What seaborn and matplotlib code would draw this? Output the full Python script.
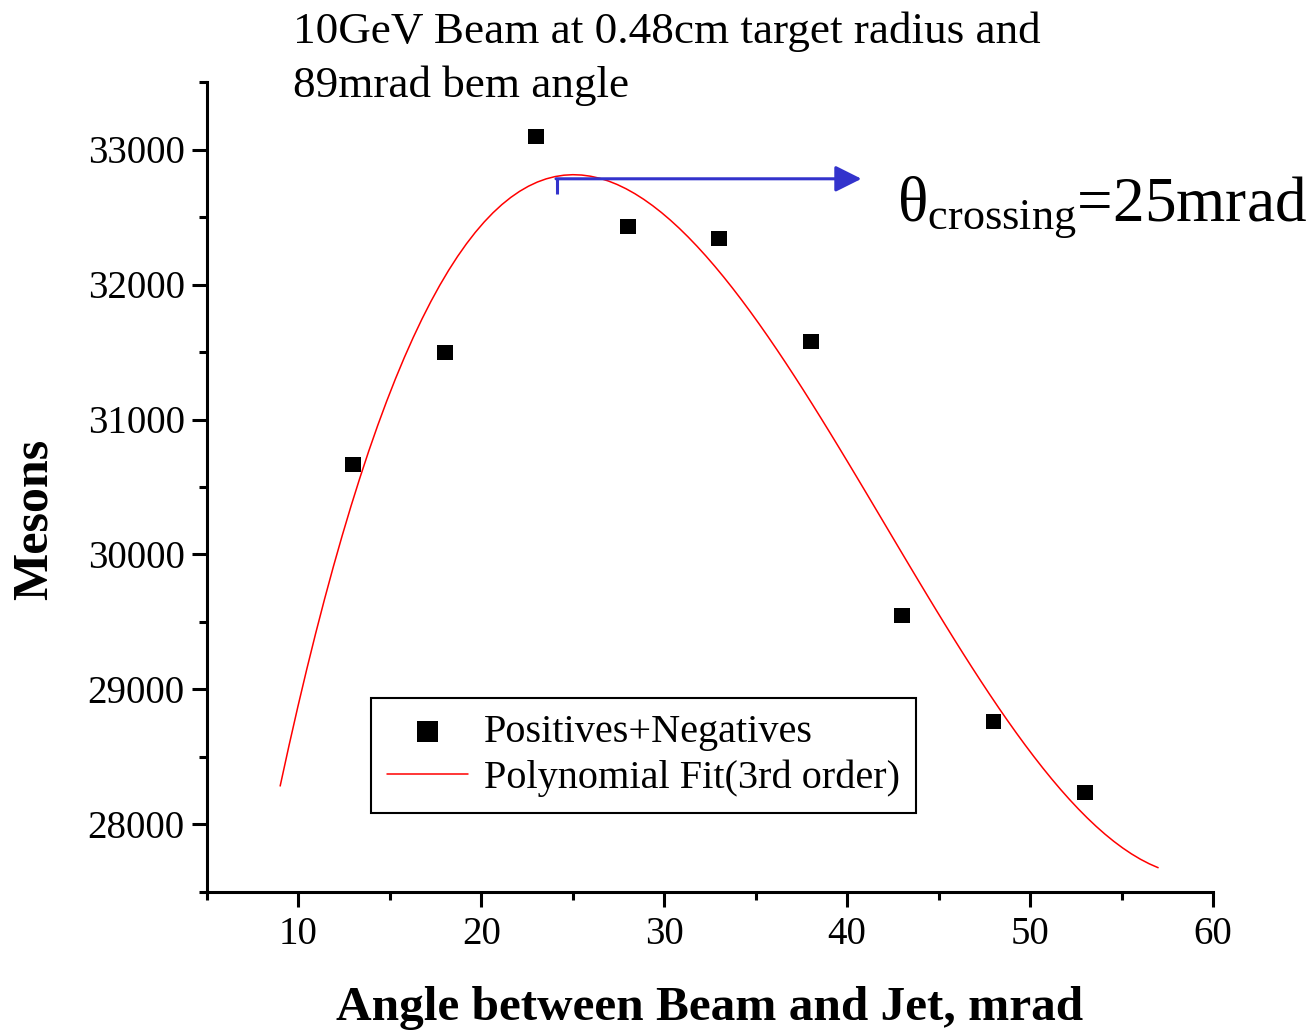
import numpy as np
import pandas as pd
import matplotlib
matplotlib.use("Agg")
import matplotlib.pyplot as plt
from matplotlib.ticker import MultipleLocator
import seaborn as sns

# ---- data ----
angle_mrad = [13, 18, 23, 28, 33, 38, 43, 48, 53]
mesons = [30667, 31496, 33096, 32430, 32341, 31578, 29548, 28763, 28237]
fit_start, fit_end = 9, 57          # range over which the cubic fit is drawn
x_ticks = [10, 20, 30, 40, 50, 60]
y_ticks = [28000, 29000, 30000, 31000, 32000, 33000]
series_label = "Positives+Negatives"
fit_label = "Polynomial Fit(3rd order)"
title_lines = ["10GeV Beam at 0.48cm target radius and", "89mrad bem angle"]
xlabel = "Angle between Beam and Jet, mrad"
ylabel = "Mesons"
crossing_angle = 25
arrow_x0, arrow_x1 = 24.13, 40.78
arrow_y0, arrow_y1 = 32667, 32783

df = pd.DataFrame({"angle": angle_mrad, "mesons": mesons})

sns.set_style("ticks")
plt.rcParams["font.family"] = ["Liberation Serif", "DejaVu Serif"]
plt.rcParams["mathtext.fontset"] = "custom"
plt.rcParams["mathtext.rm"] = "Liberation Serif"
plt.rcParams["mathtext.it"] = "Liberation Serif:italic"
for k in ["text.color", "axes.labelcolor", "xtick.color", "ytick.color", "axes.edgecolor"]:
    plt.rcParams[k] = "black"

fig = plt.figure(figsize=(13.09, 10.33), dpi=100)
ax = fig.add_axes([207 / 1309, 1 - 892 / 1033, (1213 - 207) / 1309, (892 - 82) / 1033])

# fit line over fit range
ax.set_xlim(fit_start, fit_end)
sns.regplot(data=df, x="angle", y="mesons", order=3, ci=None, scatter=False,
            truncate=False, ax=ax,
            line_kws={"color": "#ff0000", "lw": 1.1, "zorder": 2})
fit_line = ax.lines[-1]
fit_line.set_label(fit_label)

sc = ax.scatter(df["angle"], df["mesons"], marker="s", s=130, color="black",
                edgecolors="none", label=series_label, zorder=3)

ax.set_xlim(5, 60)
ax.set_ylim(27500, 33500)
ax.set_xticks(x_ticks)
ax.set_yticks(y_ticks)
ax.xaxis.set_minor_locator(MultipleLocator(5))
ax.yaxis.set_minor_locator(MultipleLocator(500))
ax.tick_params(which="major", direction="out", length=11, width=2.2, labelsize=28,
               color="black", labelcolor="black")
ax.tick_params(which="minor", direction="out", length=6, width=2.2, color="black")
ax.tick_params(axis="y", which="major", pad=5)
ax.tick_params(axis="x", which="major", pad=6)
sns.despine(ax=ax)
for s in ["left", "bottom"]:
    ax.spines[s].set_linewidth(2.2)
    ax.spines[s].set_color("black")

ax.set_xlabel(xlabel, fontsize=35.5, fontweight="bold", labelpad=24, color="black")
ax.set_ylabel(ylabel, fontsize=36, fontweight="bold", color="black")
ax.yaxis.set_label_coords(-0.148, 0.4605)

# legend
leg = ax.legend([sc, fit_line], [series_label, fit_label],
                loc="upper left", bbox_to_anchor=((371 - 207) / 1006, (892 - 698) / 810),
                borderaxespad=0, fontsize=29, frameon=True, fancybox=False,
                framealpha=1, edgecolor="black", handlelength=2.0, handletextpad=0.4,
                borderpad=0.4, labelspacing=0.2, markerscale=1.3)
leg.get_frame().set_linewidth(1.5)
for t in leg.get_texts():
    t.set_color("black")

# blue arrow annotation
ax.plot([arrow_x0, arrow_x0], [arrow_y0, arrow_y1], color="#3333cc", lw=2.2,
        solid_capstyle="butt")
ax.annotate("", xy=(arrow_x1, arrow_y1), xytext=(arrow_x0 - 0.05, arrow_y1),
            arrowprops=dict(arrowstyle="-|>,head_length=0.4,head_width=0.2",
                            color="#3333cc", lw=2.2, mutation_scale=40,
                            shrinkA=0, shrinkB=0))

fig.text(897 / 1309, 1 - 220 / 1033,
         "θ$_{\\mathrm{crossing}}$=" + f"{crossing_angle}mrad",
         fontsize=45.5, va="baseline", ha="left", color="black")

# title lines
fig.text(293 / 1309, 1 - 43 / 1033, title_lines[0], fontsize=32.5, va="baseline",
         ha="left", color="black")
fig.text(293 / 1309, 1 - 97 / 1033, title_lines[1], fontsize=32.5, va="baseline",
         ha="left", color="black")

fig.savefig("out.png", dpi=100)
